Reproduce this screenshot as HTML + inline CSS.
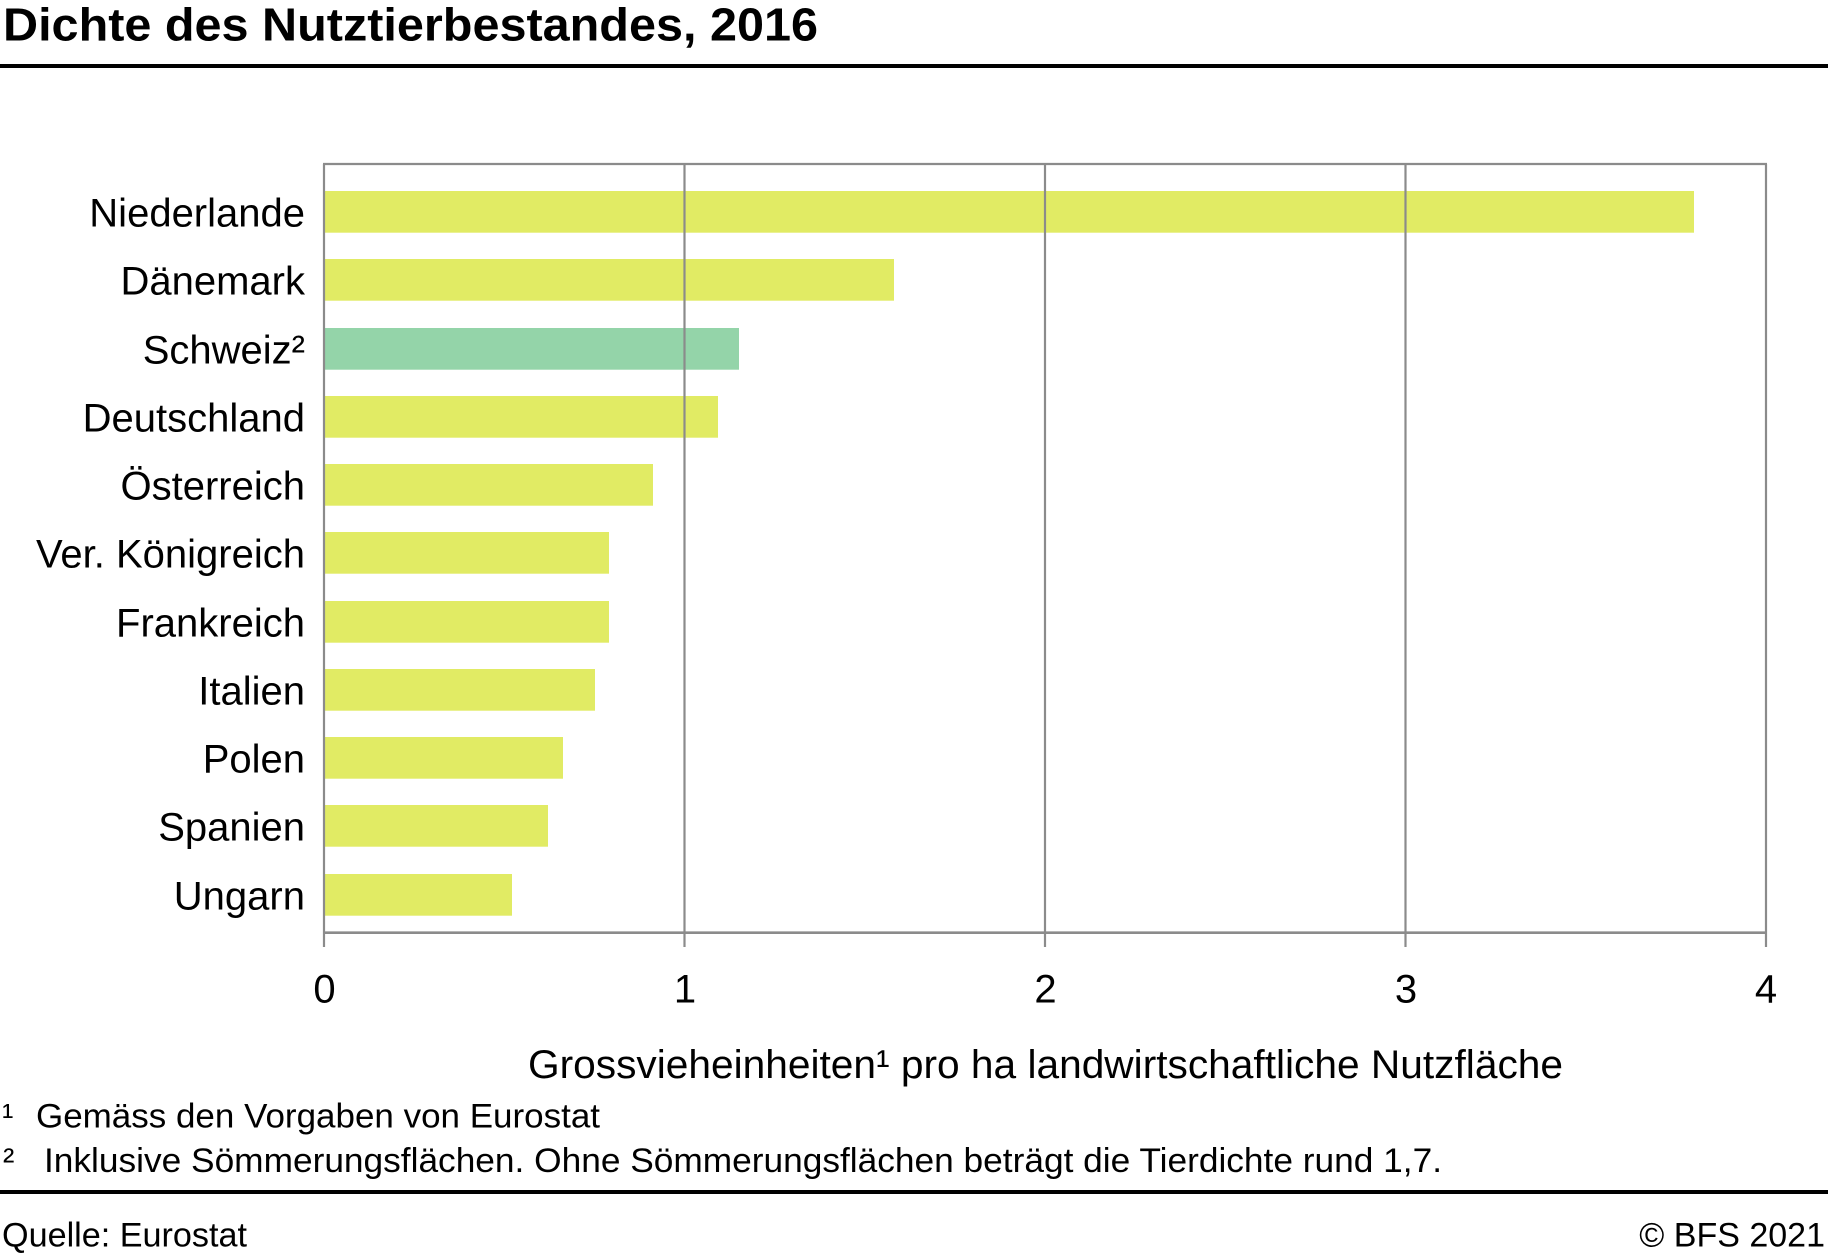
<!DOCTYPE html>
<html>
<head>
<meta charset="utf-8">
<style>
  html, body { margin: 0; padding: 0; background: #ffffff; }
  body { width: 1828px; height: 1260px; overflow: hidden; }
  svg { display: block; }
  text { font-family: "Liberation Sans", "DejaVu Sans", sans-serif; fill: #000; }
</style>
</head>
<body>
<svg width="1828" height="1260" viewBox="0 0 1828 1260" xmlns="http://www.w3.org/2000/svg">
  <rect x="0" y="0" width="1828" height="1260" fill="#ffffff"/>

  <!-- Title -->
  <text x="3" y="40.7" font-size="46" font-weight="bold" textLength="815" lengthAdjust="spacingAndGlyphs">Dichte des Nutztierbestandes, 2016</text>
  <rect x="0" y="64" width="1828" height="4" fill="#000"/>

  <!-- Bars -->
  <g>
    <rect x="324" y="191" width="1370" height="41.7" fill="#e1eb64"/>
    <rect x="324" y="259" width="570" height="41.7" fill="#e1eb64"/>
    <rect x="324" y="328" width="415" height="41.7" fill="#94d4a9"/>
    <rect x="324" y="396" width="394" height="41.7" fill="#e1eb64"/>
    <rect x="324" y="464" width="329" height="41.7" fill="#e1eb64"/>
    <rect x="324" y="532" width="285" height="41.7" fill="#e1eb64"/>
    <rect x="324" y="601" width="285" height="41.7" fill="#e1eb64"/>
    <rect x="324" y="669" width="271" height="41.7" fill="#e1eb64"/>
    <rect x="324" y="737" width="239" height="41.7" fill="#e1eb64"/>
    <rect x="324" y="805" width="224" height="41.7" fill="#e1eb64"/>
    <rect x="324" y="874" width="188" height="41.7" fill="#e1eb64"/>
  </g>

  <!-- Grid / frame -->
  <g stroke="#8b8b8b" stroke-width="2.2" fill="none">
    <line x1="684.5" y1="164" x2="684.5" y2="947"/>
    <line x1="1045" y1="164" x2="1045" y2="947"/>
    <line x1="1405.5" y1="164" x2="1405.5" y2="947"/>
    <line x1="1766" y1="164" x2="1766" y2="947"/>
    <line x1="324" y1="164" x2="324" y2="947"/>
    <line x1="323" y1="164" x2="1767" y2="164"/>
    <line x1="323" y1="932.7" x2="1767" y2="932.7" stroke-width="2.6"/>
  </g>

  <!-- Category labels -->
  <g font-size="40" text-anchor="end">
    <text x="305" y="226.7">Niederlande</text>
    <text x="305" y="294.7">Dänemark</text>
    <text x="305" y="363.5">Schweiz²</text>
    <text x="305" y="431.5">Deutschland</text>
    <text x="305" y="499.5">Österreich</text>
    <text x="305" y="567.5">Ver. Königreich</text>
    <text x="305" y="636.5">Frankreich</text>
    <text x="305" y="704.5">Italien</text>
    <text x="305" y="772.5">Polen</text>
    <text x="305" y="840.5">Spanien</text>
    <text x="305" y="909.5">Ungarn</text>
  </g>

  <!-- Tick labels -->
  <g font-size="40" text-anchor="middle">
    <text x="324.5" y="1002.5">0</text>
    <text x="685" y="1002.5">1</text>
    <text x="1045.5" y="1002.5">2</text>
    <text x="1406" y="1002.5">3</text>
    <text x="1766" y="1002.5">4</text>
  </g>

  <!-- Axis title -->
  <text x="528" y="1078" font-size="40" textLength="1035" lengthAdjust="spacingAndGlyphs">Grossvieheinheiten¹ pro ha landwirtschaftliche Nutzfläche</text>

  <!-- Footnotes -->
  <text x="2" y="1127.7" font-size="34">¹</text>
  <text x="36" y="1127.7" font-size="34" textLength="564" lengthAdjust="spacingAndGlyphs">Gemäss den Vorgaben von Eurostat</text>
  <text x="3" y="1172" font-size="34">²</text>
  <text x="44" y="1172" font-size="34" textLength="1398" lengthAdjust="spacingAndGlyphs">Inklusive Sömmerungsflächen. Ohne Sömmerungsflächen beträgt die Tierdichte rund 1,7.</text>

  <rect x="0" y="1190" width="1828" height="4" fill="#000"/>

  <text x="2" y="1246.7" font-size="34" textLength="245" lengthAdjust="spacingAndGlyphs">Quelle: Eurostat</text>
  <text x="1825" y="1246.7" font-size="34" text-anchor="end">© BFS 2021</text>
</svg>
</body>
</html>
